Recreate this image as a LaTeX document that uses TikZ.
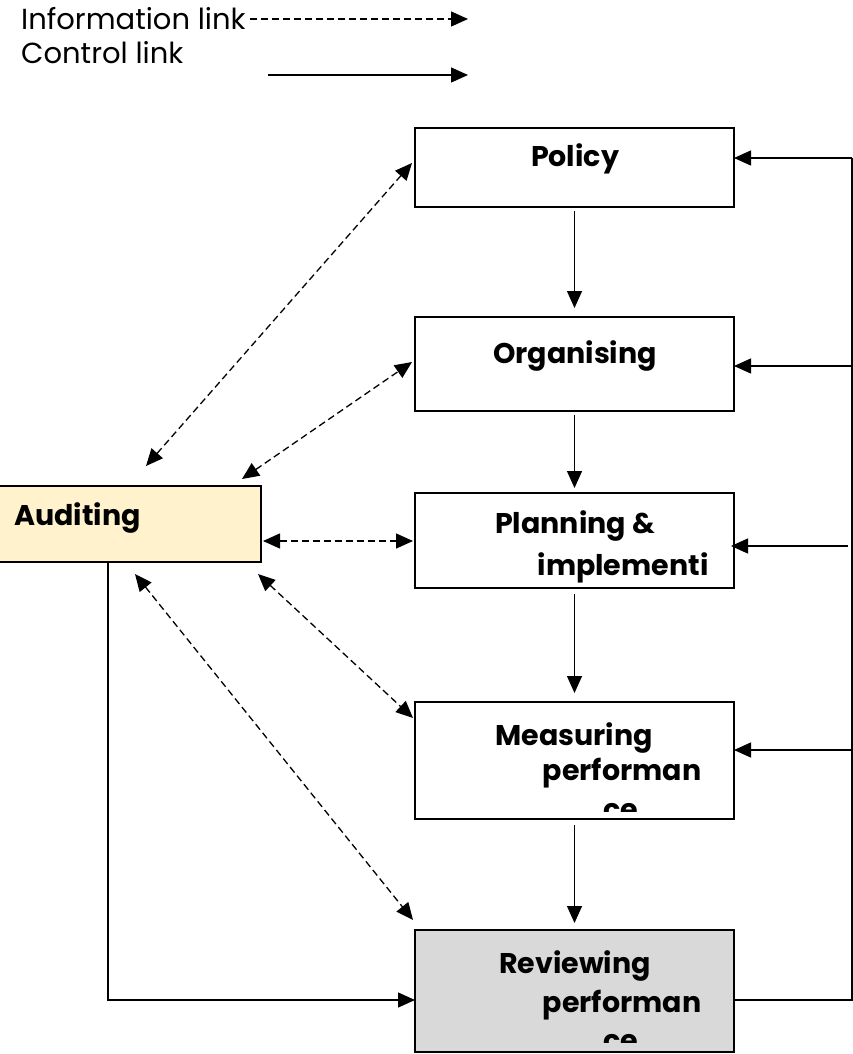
\documentclass[tikz,border=0pt]{standalone}
\usepackage{fontspec}
\setmainfont{Poppins}
\usetikzlibrary{arrows.meta,calc}
\definecolor{audfill}{RGB}{255,242,204}
\definecolor{revfill}{RGB}{217,217,217}
\tikzset{
  box/.style={draw=black, line width=1.5pt, fill=white, minimum width=319pt, inner sep=0pt, outer sep=0pt},
  boxtext/.style={font=\fontsize{28.5}{32}\selectfont\bfseries, inner sep=0pt, anchor=base},
  legtext/.style={font=\fontsize{29}{32}\selectfont, inner sep=0pt, anchor=base west},
  tip/.style={-{Triangle[length=17pt,width=15pt]}},
  ctrl/.style={draw=black, line width=1.3pt, tip},
  ctrlplain/.style={draw=black, line width=1.3pt},
  info/.style={draw=black, line width=1.3pt, dash pattern=on 7pt off 4pt,
    {Triangle[length=17pt,width=15pt]}-{Triangle[length=17pt,width=15pt]}},
  infoone/.style={draw=black, line width=1.3pt, dash pattern=on 7pt off 4pt, tip}
}
\begin{document}
\begin{tikzpicture}[x=1pt,y=-1pt]
\useasboundingbox (0,0) rectangle (853,1054);
% legend
\node[legtext] (linfo) at (21,30) {Information link};
\node[legtext] (lctrl) at (21,64) {Control link};
\coordinate (li1) at (250,19);
\coordinate (li2) at (468,19);
\coordinate (lc1) at (268,75);
\coordinate (lc2) at (468,75);
\draw[infoone] (li1) -- (li2);
\draw[ctrl] (lc1) -- (lc2);
% boxes
\node[box, minimum height=79pt] (policy) at (574.5,167.5) {};
\node[box, minimum height=94pt] (organising) at (574.5,364) {};
\node[box, minimum height=95pt] (planning) at (574.5,540.5) {};
\node[box, minimum height=117pt] (measuring) at (574.5,760.5) {};
\node[box, minimum height=122pt, fill=revfill] (reviewing) at (574.5,991) {};
\node[box, minimum width=262pt, minimum height=76pt, fill=audfill] (auditing) at (130,524) {};
% texts
\node[boxtext] (tpolicy) at (575,166) {Policy};
\node[boxtext] (torg) at (575,363) {Organising};
\node[boxtext] (tplan1) at (575,533) {Planning \&};
\node[boxtext] (tplan2) at (623,575) {implementi};
\node[boxtext, anchor=base west] (taud) at (14,525) {Auditing};
\begin{scope}
\clip (416,704) rectangle (733,811);
\node[boxtext] (tmeas1) at (574,745) {Measuring};
\node[boxtext] (tmeas2) at (622,780) {performan};
\node[boxtext] (tmeas3) at (621,819) {ce};
\end{scope}
\begin{scope}
\clip (416,932) rectangle (733,1042);
\node[boxtext] (trev1) at (575,973) {Reviewing};
\node[boxtext] (trev2) at (622,1012) {performan};
\node[boxtext] (trev3) at (621,1050) {ce};
\end{scope}
% vertical control arrows
\draw[ctrl] ([yshift=-4pt]policy.south) -- ([yshift=9pt]organising.north);
\draw[ctrl] ([yshift=-4pt]organising.south) -- ([yshift=5pt]planning.north);
\draw[ctrl] ([yshift=-6pt]planning.south) -- ([yshift=9pt]measuring.north);
\draw[ctrl] ([yshift=-6pt]measuring.south) -- ([yshift=7pt]reviewing.north);
% right feedback loop
\coordinate (fbtop) at (852,158);
\coordinate (fbbot) at (852,1000);
\draw[ctrlplain] (reviewing.east |- fbbot) -- (fbbot) -- (fbtop);
\draw[ctrl] (fbtop) -- (policy.east |- fbtop);
\coordinate (fb2) at (852,366);
\coordinate (fb3) at (848,546);
\coordinate (fb4) at (852,750);
\draw[ctrl] (fb2) -- (organising.east |- fb2);
\draw[ctrl] (fb3) -- ([xshift=-3pt]planning.east |- fb3);
\draw[ctrl] (fb4) -- (measuring.east |- fb4);
% auditing to reviewing
\coordinate (acorner) at (108,1000);
\draw[ctrl] (auditing.south -| acorner) -- (acorner) -- (reviewing.west |- acorner);
% information links
\coordinate (ip1) at (146,466);
\coordinate (ip2) at (412,163);
\coordinate (io1) at (242,479);
\coordinate (io2) at (412,362);
\coordinate (ipl) at (541,541);
\coordinate (im1) at (258,574);
\coordinate (im2) at (413,718);
\coordinate (ir1) at (135,574);
\coordinate (ir2) at (413,920);
\draw[info] (ip1) -- (ip2);
\draw[info] (io1) -- (io2);
\draw[info] ([xshift=2pt]auditing.east |- ipl) -- ([xshift=-2pt]planning.west |- ipl);
\draw[info] (im1) -- (im2);
\draw[info] (ir1) -- (ir2);
\end{tikzpicture}
\end{document}
